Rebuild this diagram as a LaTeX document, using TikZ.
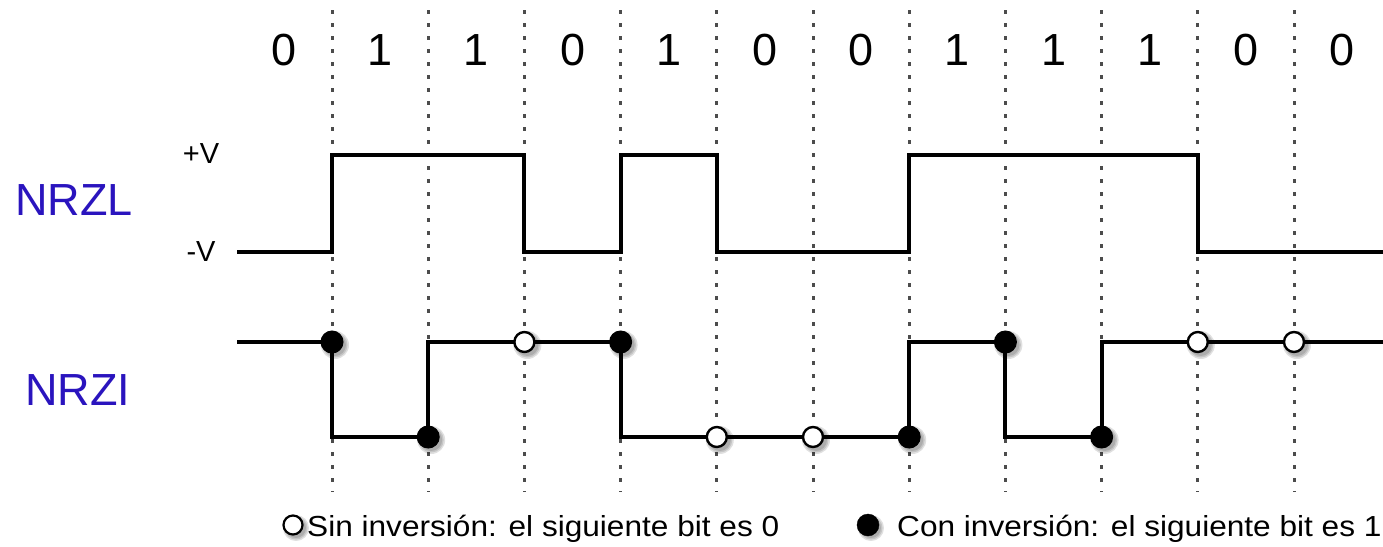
\documentclass[tikz,border=0pt]{standalone}
\usepackage{fontspec}
\setmainfont{Liberation Sans}
\definecolor{lblblue}{HTML}{2A14BE}
\begin{document}
\begin{tikzpicture}[x=1pt,y=-1pt,
  grid/.style={line width=3pt,black!70,dash pattern=on 3.5pt off 9.5pt},
  sig/.style={line width=4pt,line join=miter,line cap=butt},
  bitlbl/.style={font=\fontsize{45}{45}\selectfont,anchor=base},
  sidelbl/.style={font=\fontsize{45}{45}\selectfont,text=lblblue,anchor=base},
  vlbl/.style={font=\fontsize{29}{29}\selectfont,anchor=base},
  leg/.style={font=\fontsize{29}{29}\selectfont,anchor=base west,inner sep=0pt},
  shad/.style={fill=black,opacity=0.12,draw=none},
  whitedot/.style={circle,draw=black,fill=white,line width=2.4pt,minimum size=20pt,inner sep=0pt},
  blackdot/.style={circle,draw=black,fill=black,line width=1pt,minimum size=22pt,inner sep=0pt}]
\useasboundingbox (0,0) rectangle (1383,546);
% grid positions
\foreach \k in {1,...,11}{
  \pgfmathsetmacro{\xx}{332+96.2*(\k-1)}
  \coordinate (g\k) at (\xx,0);
  \draw[grid] (\xx,10) -- (\xx,492);
}
% bit labels
\foreach \b [count=\k] in {0,1,1,0,1,0,0,1,1,1,0,0}{
  \pgfmathsetmacro{\xx}{284+96.2*(\k-1)}
  \node[bitlbl] (b\k) at (\xx,65) {\b};
}
% side labels
\node[sidelbl] (nrzl) at (74,215) {NRZL};
\node[sidelbl] (nrzi) at (78,405) {NRZI};
\node[vlbl] (pv) at (201,163) {+V};
\node[vlbl] (mv) at (201,261) {-V};
% NRZL
\coordinate (ls) at (237,252);
\coordinate (le) at (1383,252);
\draw[sig] (ls) -- (g1 |- ls) -- (g1 |- 0,155) -- (g3 |- 0,155) -- (g3 |- ls)
  -- (g4 |- ls) -- (g4 |- 0,155) -- (g5 |- 0,155) -- (g5 |- ls)
  -- (g7 |- ls) -- (g7 |- 0,155) -- (g10 |- 0,155) -- (g10 |- ls) -- (le);
% NRZI
\coordinate (is) at (237,342);
\coordinate (ie) at (1383,342);
\coordinate (lo) at (0,437);
\draw[sig] (is) -- (g1 |- is) -- (g1 |- lo) -- (g2 |- lo) -- (g2 |- is)
  -- (g4 |- is) -- (g4 |- lo) -- (g7 |- lo) -- (g7 |- is)
  -- (g8 |- is) -- (g8 |- lo) -- (g9 |- lo) -- (g9 |- is) -- (ie);
% markers
\foreach \c/\yy/\t [count=\n] in {g1/342/b,g2/437/b,g3/342/w,g4/342/b,g5/437/w,g6/437/w,g7/437/b,g8/342/b,g9/437/b,g10/342/w,g11/342/w}{
  \foreach \r in {14,12.5,11}{
    \fill[shad] ([xshift=3pt,yshift=-3pt]\c |- 0,\yy) circle (\r pt);
  }
  \if w\t
    \node[whitedot] (m\n) at (\c |- 0,\yy) {};
  \else
    \node[blackdot] (m\n) at (\c |- 0,\yy) {};
  \fi
}
% legend
\foreach \r in {13,11.5,10}{
  \fill[shad] (296,528) circle (\r pt);
  \fill[shad] (871,528) circle (\r pt);
}
\node[circle,draw=black,fill=white,line width=2.2pt,minimum size=19pt,inner sep=0pt] (lw) at (293,525) {};
\node[circle,draw=black,fill=black,minimum size=22pt,inner sep=0pt] (lb) at (868,525) {};
\node[leg] (t1) at (307,536) {\scalebox{1.09}[1]{Sin inversión: el siguiente bit es 0}};
\node[leg] (t2) at (897,536) {\scalebox{1.09}[1]{Con inversión: el siguiente bit es 1}};
\end{tikzpicture}
\end{document}
